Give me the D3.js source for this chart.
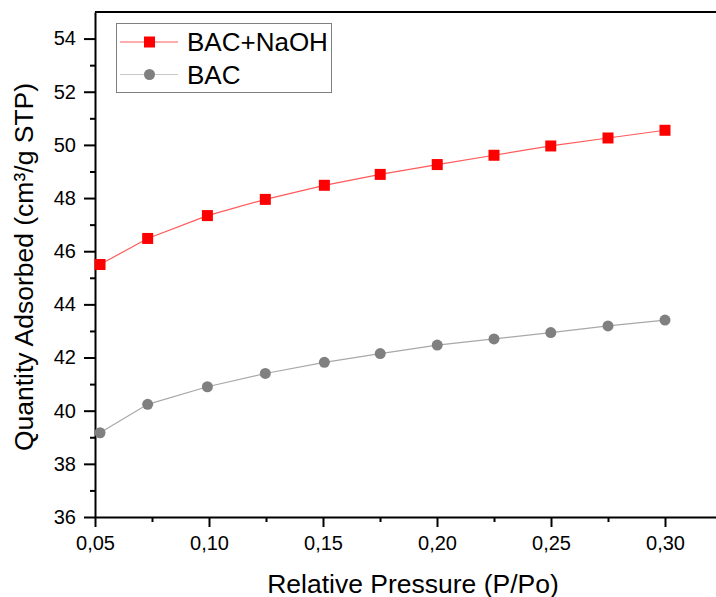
<!DOCTYPE html>
<html><head><meta charset="utf-8">
<script src="https://cdn.jsdelivr.net/npm/d3@7/dist/d3.min.js"></script>
<style>
body{margin:0;background:#fff;}
svg{display:block;font-family:Arial,"Liberation Sans",sans-serif;}
</style></head>
<body>
<svg id="chart" width="716" height="597"></svg>
<script>
const pressure = [0.0522, 0.0731, 0.0993, 0.1247, 0.1506, 0.1751, 0.2001, 0.2250, 0.2499, 0.2750, 0.3000];
const bacNaOH = [45.50, 46.48, 47.34, 47.95, 48.48, 48.89, 49.26, 49.61, 49.96, 50.26, 50.55];
const bac = [39.17, 40.24, 40.90, 41.40, 41.82, 42.15, 42.47, 42.70, 42.94, 43.19, 43.41];
const seriesNames = ["BAC+NaOH", "BAC"];
const xTicks = [0.05, 0.10, 0.15, 0.20, 0.25, 0.30];
const xMinor = [0.075, 0.125, 0.175, 0.225, 0.275, 0.325];
const yTicks = [36, 38, 40, 42, 44, 46, 48, 50, 52, 54];
const yMinor = [37, 39, 41, 43, 45, 47, 49, 51, 53];

const svg = d3.select("#chart");
const L = 95, T = 12, B = 517, R = 722;
const x = d3.scaleLinear().domain([0.05, 0.325]).range([L, R]);
const y = d3.scaleLinear().domain([36, 55]).range([B, T]);
const fmtX = d => d3.format(".2f")(d).replace(".", ",");

// frame top
svg.append("line").attr("x1", L).attr("x2", R).attr("y1", T).attr("y2", T)
  .attr("stroke", "#000").attr("stroke-width", 2);

function styleAxis(g){
  g.select(".domain").attr("stroke-width", 2);
  g.selectAll(".tick line").attr("stroke-width", 2);
  g.selectAll(".tick text").attr("font-size", 20).attr("fill", "#000")
    .attr("font-family", "Arial, 'Liberation Sans', sans-serif");
}

// minor ticks
svg.append("g").attr("transform", `translate(0,${B})`)
  .call(d3.axisBottom(x).tickValues(xMinor).tickSize(5).tickFormat(""))
  .call(g => g.select(".domain").remove())
  .call(g => g.selectAll(".tick line").attr("stroke-width", 2));
svg.append("g").attr("transform", `translate(${L},0)`)
  .call(d3.axisLeft(y).tickValues(yMinor).tickSize(5).tickFormat(""))
  .call(g => g.select(".domain").remove())
  .call(g => g.selectAll(".tick line").attr("stroke-width", 2));

// major axes
svg.append("g").attr("transform", `translate(0,${B})`)
  .call(d3.axisBottom(x).tickValues(xTicks).tickSize(10).tickSizeOuter(0).tickPadding(9).tickFormat(fmtX))
  .call(styleAxis);
svg.append("g").attr("transform", `translate(${L},0)`)
  .call(d3.axisLeft(y).tickValues(yTicks).tickSize(11).tickSizeOuter(0).tickPadding(8).tickFormat(d3.format("d")))
  .call(styleAxis);

// axis titles
svg.append("text").attr("x", 413).attr("y", 593).attr("text-anchor", "middle")
  .attr("font-size", 26.5).text("Relative Pressure (P/Po)");
svg.append("text").attr("transform", "translate(33,267) rotate(-90)").attr("text-anchor", "middle")
  .attr("font-size", 26.5).text("Quantity Adsorbed (cm³/g STP)");

const line = d3.line();
const redPts = pressure.map((p, i) => [x(p), y(bacNaOH[i])]);
const grayPts = pressure.map((p, i) => [x(p), y(bac[i])]);

svg.append("path").attr("d", line(grayPts)).attr("fill", "none").attr("stroke", "#a8a8a8").attr("stroke-width", 1.2);
svg.selectAll(".gc").data(grayPts).enter().append("circle")
  .attr("cx", d => d[0]).attr("cy", d => d[1]).attr("r", 5.5).attr("fill", "#808080");

svg.append("path").attr("d", line(redPts)).attr("fill", "none").attr("stroke", "#ff5a5a").attr("stroke-width", 1.2);
svg.selectAll(".rs").data(redPts).enter().append("rect")
  .attr("x", d => d[0] - 5.5).attr("y", d => d[1] - 5.5).attr("width", 11).attr("height", 11).attr("fill", "#ff0000");

// legend
const lg = svg.append("g");
lg.append("rect").attr("x", 116.5).attr("y", 23.5).attr("width", 215).attr("height", 69)
  .attr("fill", "#fff").attr("stroke", "#808080").attr("stroke-width", 1);
const rows = [{name: seriesNames[0], y: 42, color: "#ff5a5a"}, {name: seriesNames[1], y: 74.5, color: "#c8c8c8"}];
rows.forEach((r, i) => {
  lg.append("line").attr("x1", 120).attr("x2", 178).attr("y1", r.y).attr("y2", r.y).attr("stroke", r.color).attr("stroke-width", 1.2);
  if (i === 0) lg.append("rect").attr("x", 149.5 - 5.5).attr("y", r.y - 5.5).attr("width", 11).attr("height", 11).attr("fill", "#ff0000");
  else lg.append("circle").attr("cx", 149.5).attr("cy", r.y).attr("r", 5.5).attr("fill", "#808080");
  lg.append("text").attr("x", 187).attr("y", r.y).attr("dy", "0.35em").attr("font-size", 26).text(r.name);
});
</script>
</body></html>
